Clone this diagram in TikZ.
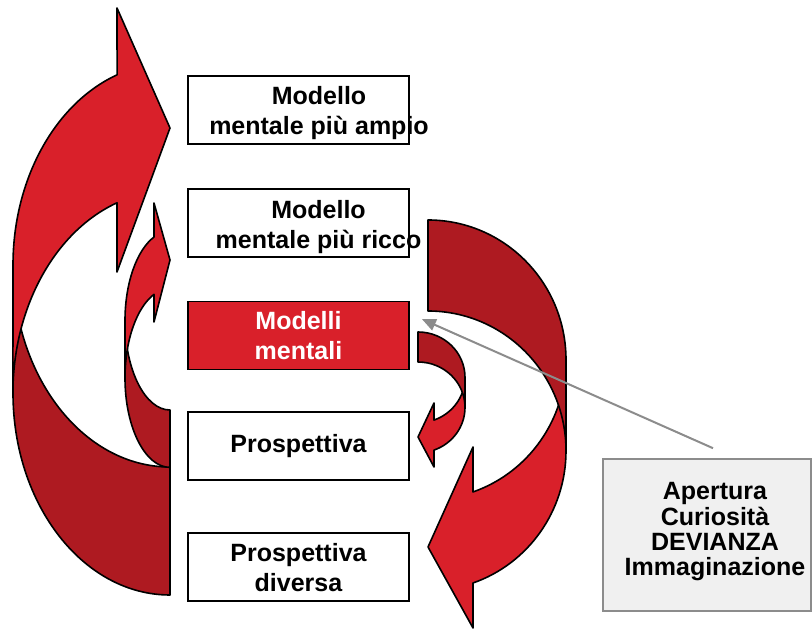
\documentclass[tikz,border=0pt]{standalone}
\usepackage{fontspec}
\setmainfont{Liberation Sans}
\usetikzlibrary{arrows.meta, positioning, calc}
\definecolor{bandred}{HTML}{D9202A}
\definecolor{banddark}{HTML}{AE1A21}
\definecolor{notegray}{HTML}{8C8C8C}
\definecolor{notefill}{HTML}{F0F0F0}

\begin{document}
\begin{tikzpicture}[x=1pt, y=1pt,
    modelbox/.style={draw=black, line width=1.8pt, minimum width=221pt,
        minimum height=68pt, inner sep=0pt},
    boxtext/.style={font=\fontsize{25}{30}\selectfont\bfseries, align=center},
    bandfront/.style={fill=bandred, draw=black, line width=1.6pt, line join=round},
    bandback/.style={fill=banddark, draw=black, line width=1.6pt, line join=round}]
    \useasboundingbox (0,0) rectangle (812,629);

    % Big arrow, left side
    \filldraw[bandback] (170,34) arc[start angle=270, end angle=180, x radius=157pt, y radius=202pt]
        -- (13,364) arc[start angle=180, end angle=270, x radius=157pt, y radius=202pt] -- cycle;
    \filldraw[bandfront] (13,364) arc[start angle=180, end angle=109.7, x radius=157pt, y radius=202pt]
        -- (117,621) -- (170,501) -- (117,357) -- (117,426.2)
        arc[start angle=109.7, end angle=180, x radius=157pt, y radius=202pt] -- cycle;

    % Small arrow, left side
    \filldraw[bandback] (170,161.6) arc[start angle=270, end angle=180, x radius=45pt, y radius=89.4pt]
        -- (125,308.4) arc[start angle=180, end angle=270, x radius=45pt, y radius=89.4pt] -- cycle;
    \filldraw[bandfront] (125,308.4) arc[start angle=180, end angle=110.8, x radius=45pt, y radius=89.4pt]
        -- (154,426) -- (170,369) -- (154,307) -- (154,334.6)
        arc[start angle=110.8, end angle=180, x radius=45pt, y radius=89.4pt] -- cycle;

    % Big arrow, right side
    \filldraw[bandfront] (566,269.2) arc[start angle=0, end angle=-70.97, x radius=138pt, y radius=139.8pt]
        -- (473,182) -- (428,82) -- (473,1) -- (473,46)
        arc[start angle=-70.97, end angle=0, x radius=138pt, y radius=139.8pt] -- cycle;
    \filldraw[bandback] (428,409) arc[start angle=90, end angle=0, x radius=138pt, y radius=139.8pt]
        -- (566,178.2) arc[start angle=0, end angle=90, x radius=138pt, y radius=139.8pt] -- cycle;

    % Small arrow, right side
    \filldraw[bandfront] (465,251.6) arc[start angle=0, end angle=-70.1, x radius=47pt, y radius=45.4pt]
        -- (434,226) -- (418,192) -- (434,162) -- (434,178.9)
        arc[start angle=-70.1, end angle=0, x radius=47pt, y radius=45.4pt] -- cycle;
    \filldraw[bandback] (418,297) arc[start angle=90, end angle=0, x radius=47pt, y radius=45.4pt]
        -- (465,221.6) arc[start angle=0, end angle=90, x radius=47pt, y radius=45.4pt] -- cycle;

    % Model boxes
    \node[modelbox] (b1) at (298.5,519) {};
    \node[modelbox, below=43pt of b1] (b2) {};
    \node[modelbox, fill=bandred, below=43pt of b2] (b3) {};
    \node[modelbox, below=41pt of b3] (b4) {};
    \node[modelbox, below=51pt of b4] (b5) {};

    \node[boxtext] (t1) at ($(b1.center)+(20.5,-3.5)$) {Modello\\mentale più ampio};
    \node[boxtext] (t2) at ($(b2.center)+(20,-4)$) {Modello\\mentale più ricco};
    \node[boxtext, text=white] (t3) at (b3.center) {Modelli\\mentali};
    \node[boxtext] (t4) at (b4.center) {Prospettiva};
    \node[boxtext] (t5) at (b5.center) {Prospettiva\\diversa};

    % Note box
    \node[draw=notegray, fill=notefill, line width=1.6pt, minimum width=208pt,
          minimum height=152pt, inner sep=0pt] (note) at (707,94) {};
    \node[font=\fontsize{25}{25.3}\selectfont\bfseries, align=center] (notetext)
        at ($(note.center)+(8,3)$) {Apertura\\Curiosità\\DEVIANZA\\Immaginazione};

    \coordinate (notetail) at ($(note.north)+(6,10)$);
    \coordinate (notehead) at ($(b3.east)+(12,16.5)$);
    \draw[notegray, line width=2pt, -{Triangle[length=14pt, width=12pt]}] (notetail) -- (notehead);
\end{tikzpicture}
\end{document}
